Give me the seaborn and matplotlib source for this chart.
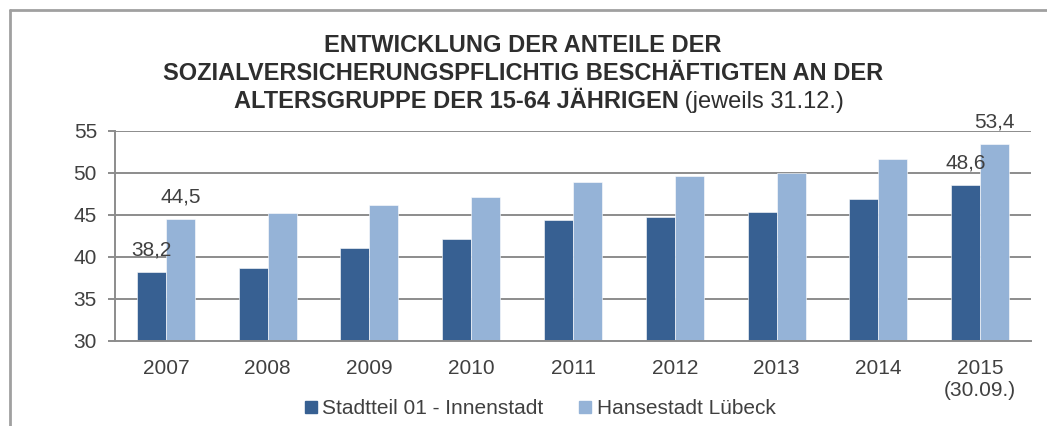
import pandas as pd
import numpy as np
import matplotlib
matplotlib.use("Agg")
import matplotlib.pyplot as plt
from matplotlib.lines import Line2D
import seaborn as sns

# data
years = ["2007", "2008", "2009", "2010", "2011", "2012", "2013", "2014", "2015\n(30.09.)"]
innenstadt = [38.2, 38.7, 41.1, 42.1, 44.4, 44.8, 45.3, 46.9, 48.6]
luebeck = [44.5, 45.2, 46.2, 47.1, 48.9, 49.6, 50.0, 51.7, 53.4]
series_names = ["Stadtteil 01 - Innenstadt", "Hansestadt Lübeck"]
colors = ["#376092", "#95B3D7"]
labelled = [0, 8]  # only first and last year get a value label

df = pd.DataFrame({
    "Jahr": years * 2,
    "Anteil": innenstadt + luebeck,
    "Gebiet": [series_names[0]] * len(years) + [series_names[1]] * len(years),
})

sns.set_style("white")
plt.rcParams["font.family"] = ["Liberation Sans", "DejaVu Sans"]
txt_col = "#404040"
title_col = "#2e2e2e"
grid_col = "#8c8c8c"

fig = plt.figure(figsize=(10.47, 4.26), dpi=100)
ax = fig.add_axes([115 / 1047, 85 / 426, 916 / 1047, 210 / 426])

sns.barplot(data=df, x="Jahr", y="Anteil", hue="Gebiet", palette=colors,
            width=0.57, saturation=1, edgecolor="white", linewidth=0.4,
            legend=False, ax=ax)

ax.set_ylim(30, 55)
ax.set_xlim(-0.5, len(years) - 0.5)
ax.set_yticks(np.arange(30, 56, 5))
ax.set_xlabel("")
ax.set_ylabel("")

# grid and axes styling
for y in range(35, 56, 5):
    ax.axhline(y, color=grid_col, lw=1.4, zorder=0)
for side in ["top", "right"]:
    ax.spines[side].set_visible(False)
for side in ["left", "bottom"]:
    ax.spines[side].set_color(grid_col)
    ax.spines[side].set_linewidth(1.4)

ax.set_xticks(np.arange(len(years)))
ax.set_xticklabels(years)
ax.set_xticks(np.arange(-0.5, len(years)), minor=True)
ax.tick_params(axis="x", which="major", length=0, pad=13, labelsize=15, labelcolor=txt_col)
ax.tick_params(axis="x", which="minor", length=5, width=1.4, color=grid_col, direction="out")
ax.tick_params(axis="y", length=5, width=1.4, color=grid_col, direction="out",
               pad=8, labelsize=15, labelcolor=txt_col, left=True)

# value labels
for cont, vals in zip(ax.containers, [innenstadt, luebeck]):
    labels = [f"{v:.1f}".replace(".", ",") if i in labelled else "" for i, v in enumerate(vals)]
    ax.bar_label(cont, labels=labels, padding=9, fontsize=15, color=txt_col)

# title (three lines, last one mixed bold / normal)
fig.text(523 / 1047, 1 - 45 / 426, "ENTWICKLUNG DER ANTEILE DER",
         ha="center", va="center", fontsize=17, fontweight="bold", color=title_col)
fig.text(523 / 1047, 1 - 74 / 426, "SOZIALVERSICHERUNGSPFLICHTIG BESCHÄFTIGTEN AN DER",
         ha="center", va="center", fontsize=17, fontweight="bold", color=title_col)
t_bold = fig.text(0, 1 - 102 / 426, "ALTERSGRUPPE DER 15-64 JÄHRIGEN",
                  ha="left", va="center", fontsize=17, fontweight="bold", color=title_col)
t_norm = fig.text(0, 1 - 102 / 426, " (jeweils 31.12.)",
                  ha="left", va="center", fontsize=17, color=title_col)
fig.canvas.draw()
r = fig.canvas.get_renderer()
wb = t_bold.get_window_extent(r).width
wn = t_norm.get_window_extent(r).width
x0 = 539 - (wb + wn) / 2
t_bold.set_x(x0 / 1047)
t_norm.set_x((x0 + wb) / 1047)

# legend
handles = [Line2D([], [], marker="s", ls="", color=c, markersize=8.5) for c in colors]
fig.legend(handles, series_names, loc="center", bbox_to_anchor=(540 / 1047, 1 - 409 / 426),
           ncol=2, frameon=False, fontsize=15, handlelength=0.6, handletextpad=0.25,
           columnspacing=1.7, labelcolor=txt_col)

# outer frame lines (top and left)
fig.add_artist(Line2D([9.5 / 1047, 1], [1 - 10 / 426, 1 - 10 / 426], color="#a0a0a0", lw=2))
fig.add_artist(Line2D([9.5 / 1047, 9.5 / 1047], [0, 1 - 10 / 426], color="#a0a0a0", lw=2))

fig.savefig("out.png", dpi=100)
